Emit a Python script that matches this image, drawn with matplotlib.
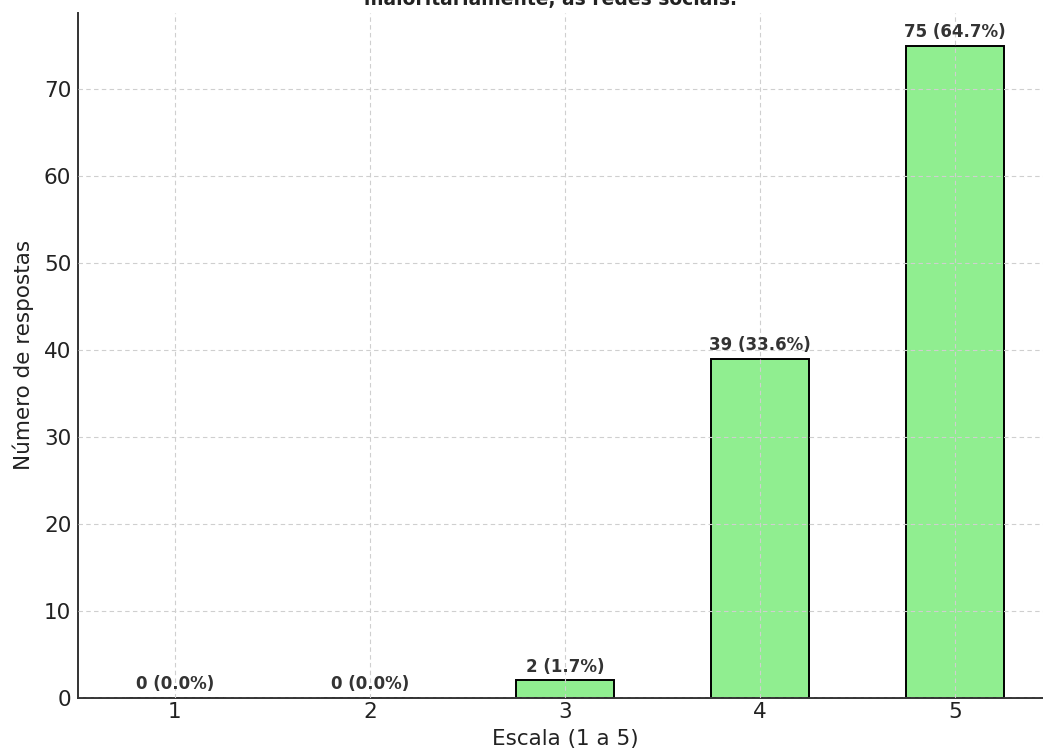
import matplotlib.pyplot as plt

escala = [1, 2, 3, 4, 5]
respostas = [0, 0, 2, 39, 75]
percentagens = [0.0, 0.0, 1.7, 33.6, 64.7]

titulo = "maioritariamente, as redes sociais."

W, H, DPI = 1043, 756, 100
fig = plt.figure(figsize=(W / DPI, H / DPI), dpi=DPI)

# axes run past the right edge of the canvas
left, right, bottom, top = 77.5, 1052.5, 58.5, 743
ax = fig.add_axes([left / W, bottom / H, (right - left) / W, (top - bottom) / H])

ax.bar(escala, respostas, width=0.5, color="#90ee90", edgecolor="black",
       linewidth=1.4, zorder=1)

for x, n, p in zip(escala, respostas, percentagens):
    ax.text(x, n + 0.5, f"{n} ({p:.1f}%)", ha="center", va="bottom",
            fontsize=12, fontweight="bold", color="#333333", zorder=4)

ax.set_xlim(0.5, 5.5)
ax.set_ylim(0, max(respostas) * 1.05)
ax.set_xticks(escala)
ax.set_yticks(range(0, 80, 10))

ax.grid(True, linestyle=(0, (4, 3)), color="#cfcfcf", linewidth=0.8, zorder=3)
ax.set_axisbelow(False)

for side in ("top", "right"):
    ax.spines[side].set_visible(False)
for side in ("left", "bottom"):
    ax.spines[side].set_color("#333333")
    ax.spines[side].set_linewidth(1.4)

ax.tick_params(labelsize=15.5, colors="#222222", length=0)
ax.tick_params(axis="x", pad=3)
ax.tick_params(axis="y", pad=4.5)
ax.set_xlabel("Escala (1 a 5)", fontsize=15.5, color="#222222", labelpad=5)
ax.set_ylabel("Número de respostas", fontsize=15.5, color="#222222", labelpad=7)

fig.text(550 / W, 1 - 5 / H, titulo, ha="center", va="baseline",
         fontsize=13.5, fontweight="bold", color="#222222")

fig.savefig("out.png", dpi=DPI)
